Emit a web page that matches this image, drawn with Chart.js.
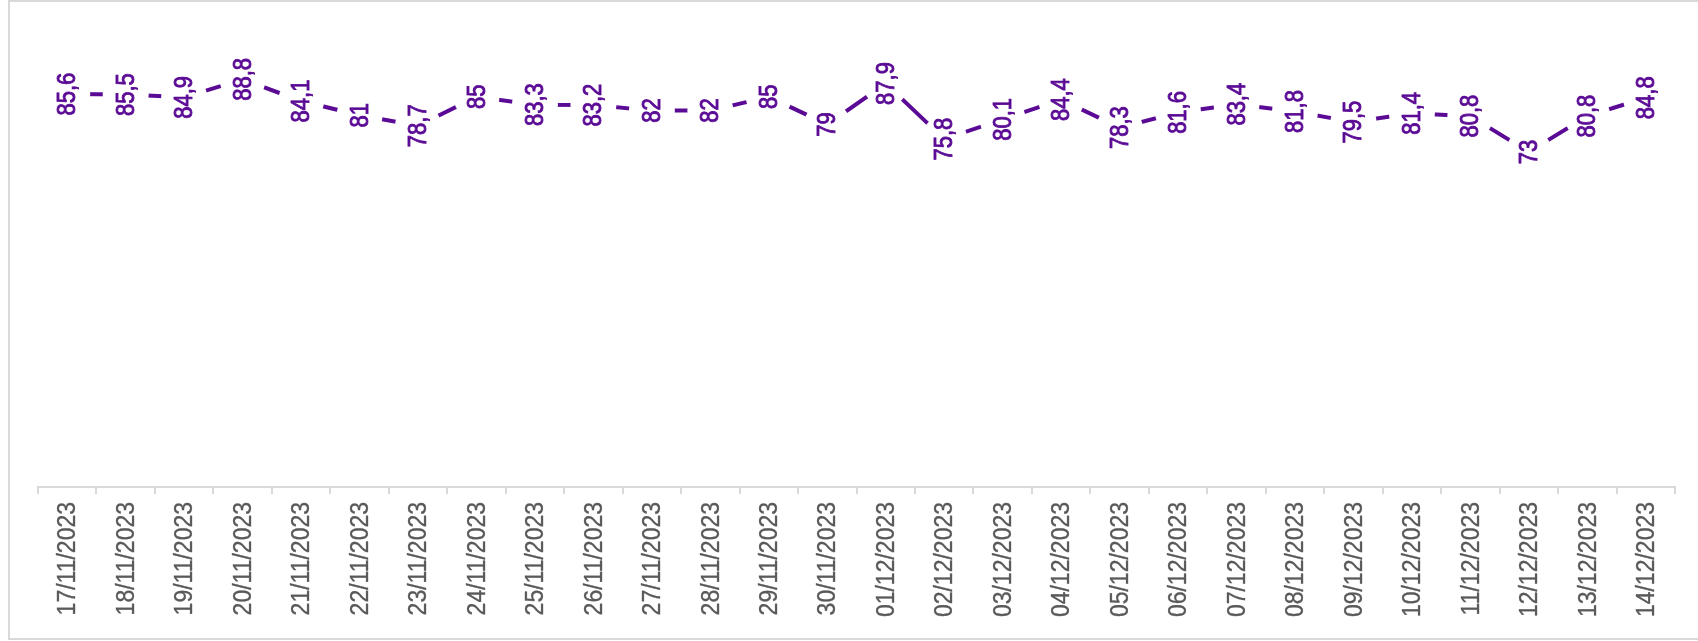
<!DOCTYPE html>
<html>
<head>
<meta charset="utf-8">
<script src="https://cdn.jsdelivr.net/npm/chart.js@4/dist/chart.umd.min.js"></script>
<style>
  html, body { margin:0; padding:0; background:#fff; overflow:hidden; }
  #frame { position:absolute; left:8px; top:0; width:1700px; height:636px; border:2px solid #d9d9d9; box-sizing:content-box; }
  #chart { position:absolute; left:0; top:0; }
</style>
</head>
<body>
<div id="frame"></div>
<canvas id="chart" width="1698" height="641"></canvas>
<script>
// dates (x categories)
var DATES = ['17/11/2023','18/11/2023','19/11/2023','20/11/2023','21/11/2023','22/11/2023','23/11/2023',
  '24/11/2023','25/11/2023','26/11/2023','27/11/2023','28/11/2023','29/11/2023','30/11/2023',
  '01/12/2023','02/12/2023','03/12/2023','04/12/2023','05/12/2023','06/12/2023','07/12/2023',
  '08/12/2023','09/12/2023','10/12/2023','11/12/2023','12/12/2023','13/12/2023','14/12/2023'];

// daily values
var VALUES = [85.6,85.5,84.9,88.8,84.1,81,78.7,85,83.3,83.2,82,82,85,79,
  87.9,75.8,80.1,84.4,78.3,81.6,83.4,81.8,79.5,81.4,80.8,73,80.8,84.8];

var Y_MIN = 0, Y_MAX = 100;

var PURPLE = '#5a0a94';
var FONT = '"Liberation Sans", Arial, sans-serif';

// rotated text helper; sy widens the glyphs a bit, like the reference render
function drawRotated(ctx, txt, x, y, align, sy, weight) {
  ctx.save();
  ctx.translate(x, y);
  ctx.rotate(-Math.PI/2);
  ctx.scale(1, sy);
  ctx.textAlign = align;
  ctx.textBaseline = 'middle';
  ctx.fillText(txt, 0, 1);
  if (weight) {
    ctx.lineWidth = weight;
    ctx.strokeStyle = ctx.fillStyle;
    ctx.strokeText(txt, 0, 1);
  }
  ctx.restore();
}

// value labels over the white point discs + date labels under the axis
var labelsPlugin = {
  id:'labelsPlugin',
  afterDatasetsDraw:function(chart){
    var ctx = chart.ctx;
    var meta = chart.getDatasetMeta(0);
    ctx.save();
    ctx.font = '22px ' + FONT;
    ctx.fillStyle = PURPLE;
    meta.data.forEach(function(pt, i){
      drawRotated(ctx, String(VALUES[i]).replace('.', ','), pt.x, pt.y, 'center', 1.14, 0.8);
    });

    var xs = chart.scales.x;
    ctx.font = '23px ' + FONT;
    ctx.fillStyle = '#595959';
    DATES.forEach(function(d, i){
      drawRotated(ctx, d, xs.getPixelForTick(i), xs.top + 15, 'right', 1.12, 0.3);
    });
    ctx.restore();
  }
};

new Chart(document.getElementById('chart'), {
  type:'line',
  data:{
    labels: DATES,
    datasets:[{
      data: VALUES,
      borderColor: PURPLE,
      borderWidth: 4,
      pointRadius: 23,
      pointHoverRadius: 23,
      pointBackgroundColor: '#fff',
      pointBorderWidth: 0,
      pointBorderColor: 'rgba(0,0,0,0)',
      tension: 0,
      fill: false
    }]
  },
  options:{
    responsive:false, animation:false, devicePixelRatio:1,
    layout:{padding:{left:38, right:16, top:28, bottom:0}},
    plugins:{legend:{display:false}, tooltip:{enabled:false}},
    scales:{
      x:{
        offset:true,
        afterFit:function(s){ s.height = 641 - 487; },
        grid:{offset:true, drawOnChartArea:false, drawTicks:true, tickLength:7, color:'#d9d9d9', lineWidth:2},
        border:{display:true, color:'#d9d9d9', width:2},
        ticks:{autoSkip:false, minRotation:90, maxRotation:90, padding:8, color:'rgba(0,0,0,0)',
          font:{family:FONT, size:23}}
      },
      y:{ display:false, min:Y_MIN, max:Y_MAX }
    }
  },
  plugins:[labelsPlugin]
});
</script>
</body>
</html>
